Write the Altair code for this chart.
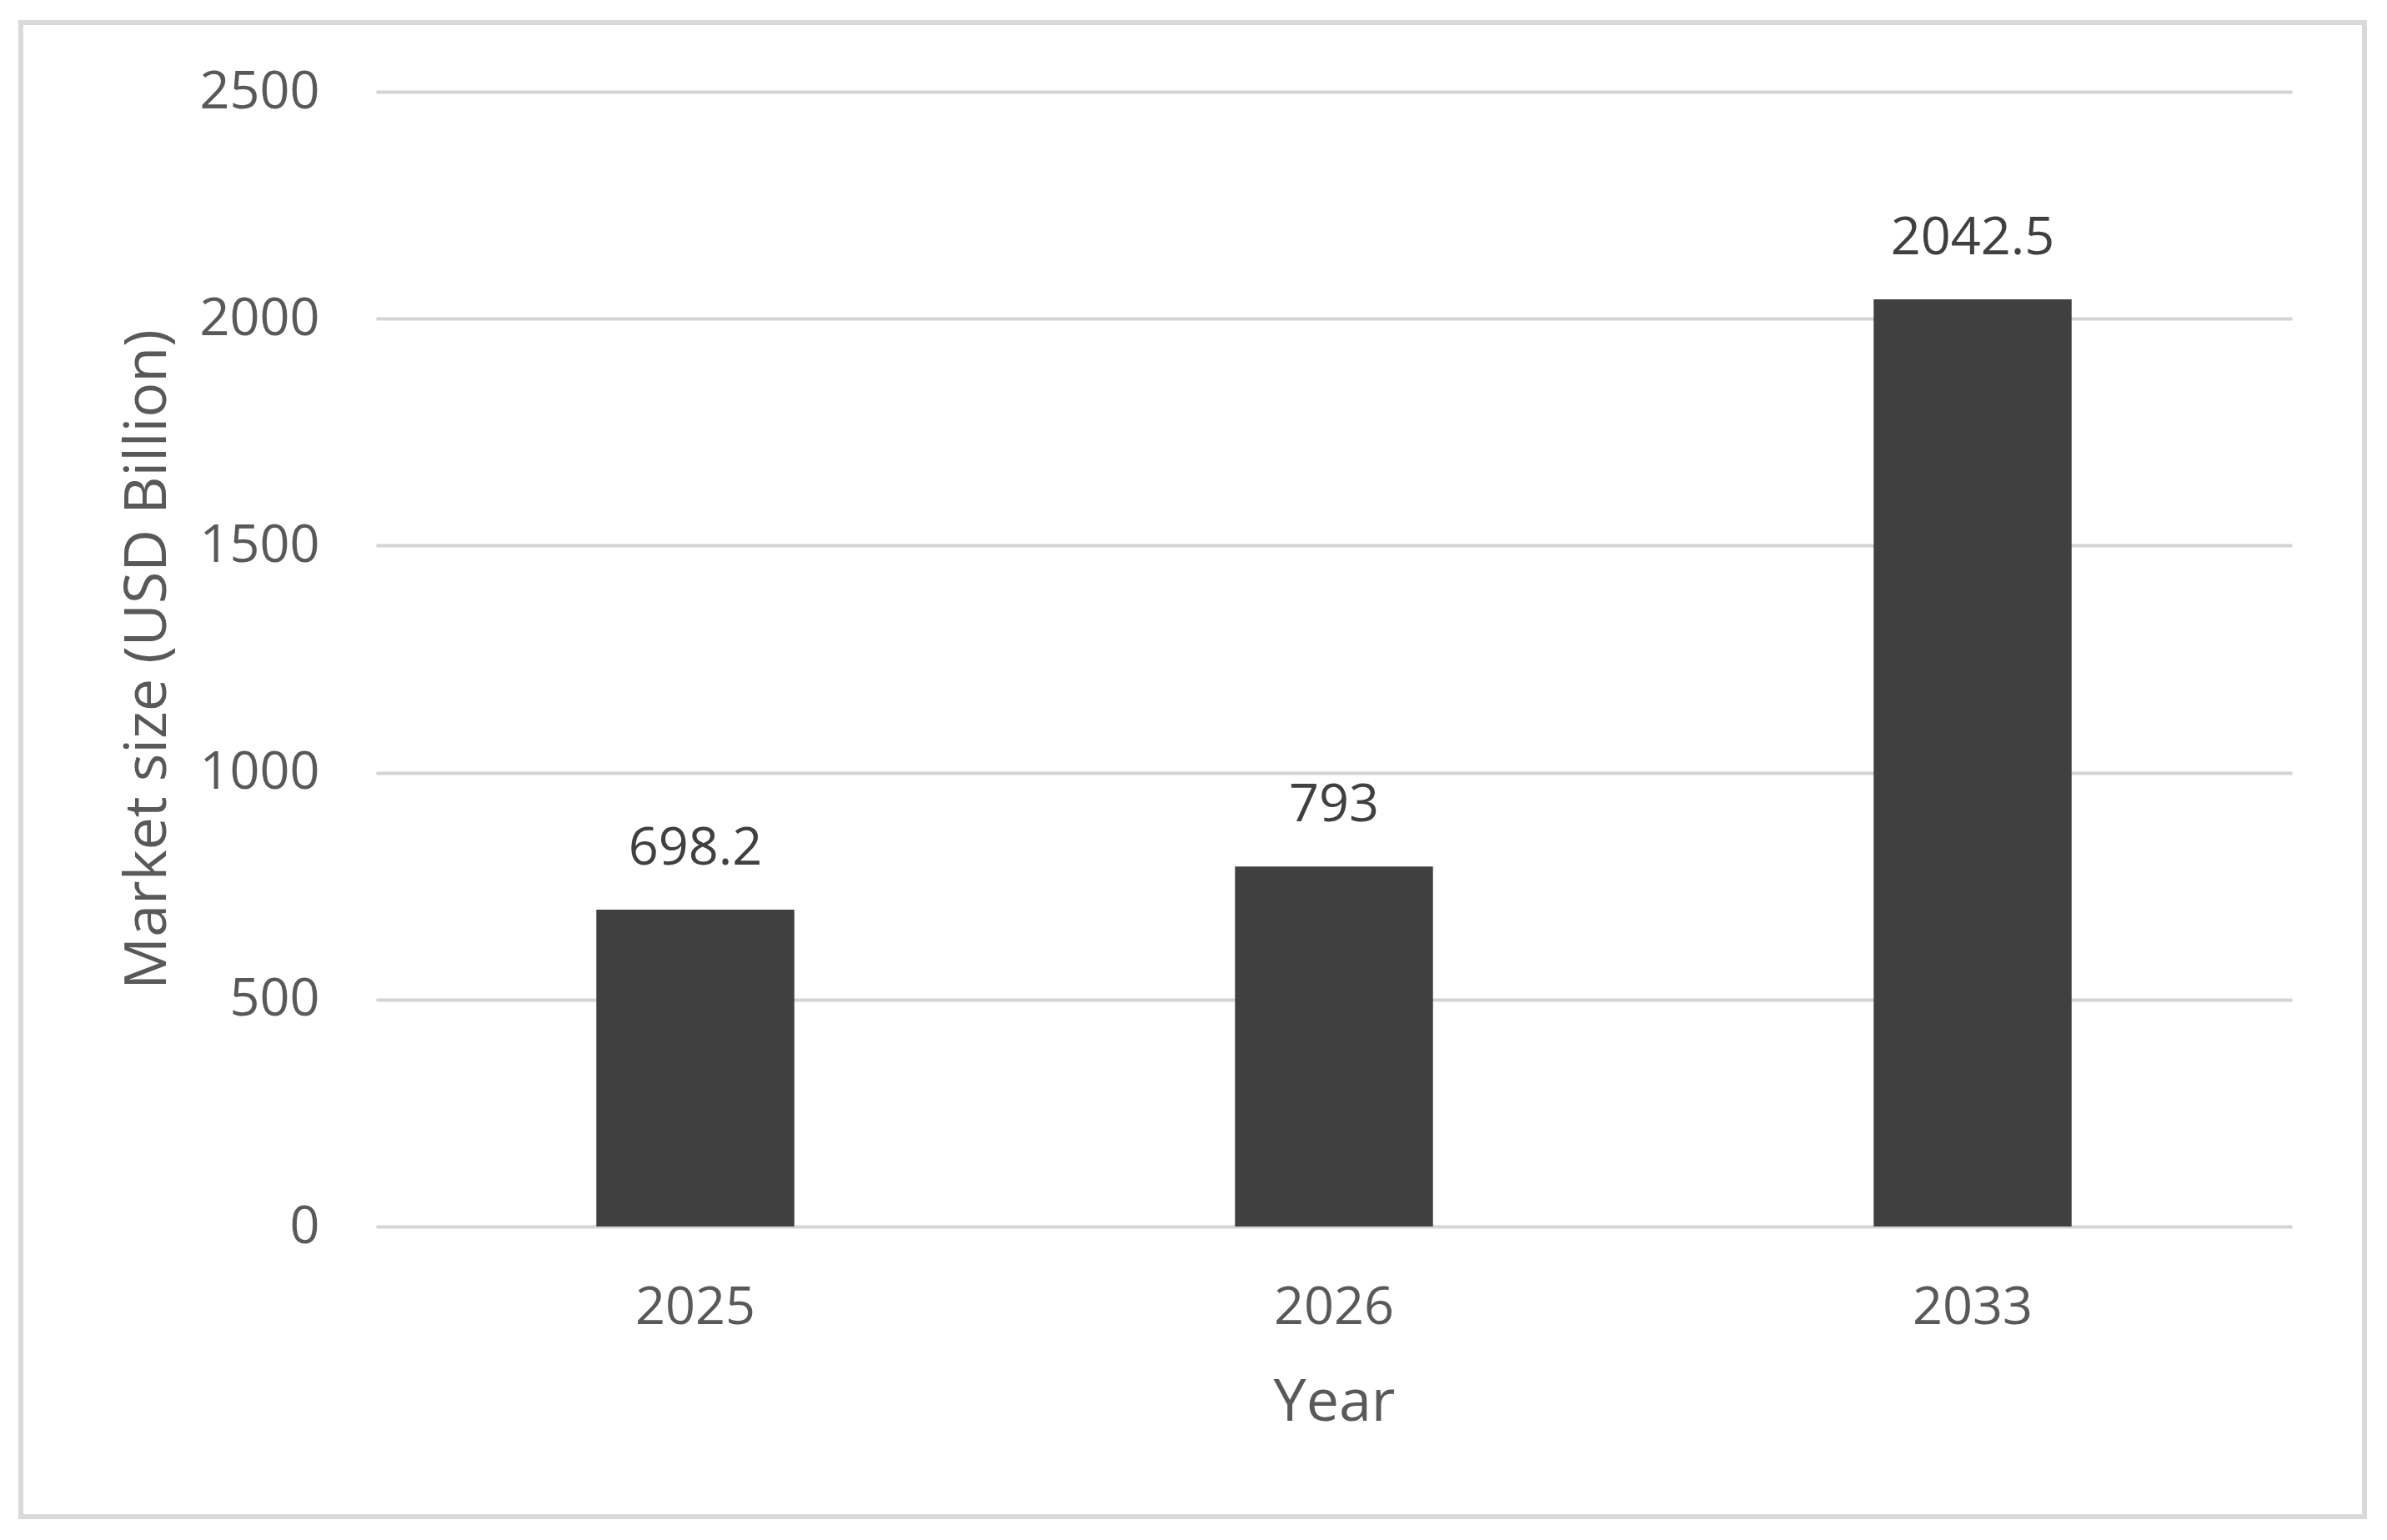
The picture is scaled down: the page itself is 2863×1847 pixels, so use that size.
import altair as alt
import pandas as pd

years = ["2025", "2026", "2033"]
values = [698.2, 793, 2042.5]
labels = ["698.2", "793", "2042.5"]
y_ticks = [0, 500, 1000, 1500, 2000, 2500]

df = pd.DataFrame({"Year": years, "Value": values, "Label": labels})

FONT = "Open Sans"
W, H = 2298, 1361

base = alt.Chart(df)

bars = base.mark_bar(color="#404040").encode(
    x=alt.X(
        "Year:N",
        sort=years,
        scale=alt.Scale(paddingInner=0.69, paddingOuter=0.345),
        axis=alt.Axis(
            title="Year",
            labelAngle=0,
            labelFont=FONT,
            labelFontSize=63,
            labelColor="#595959",
            labelBaseline="alphabetic",
            labelPadding=116,
            ticks=False,
            domain=False,
            grid=False,
            titleFont=FONT,
            titleFontSize=70,
            titleFontWeight="normal",
            titleColor="#595959",
            titleBaseline="alphabetic",
            titleY=232,
            titleX=W / 2,
        ),
    ),
    y=alt.Y(
        "Value:Q",
        scale=alt.Scale(domain=[0, 2500], nice=False),
        axis=alt.Axis(
            title="Market size (USD Billion)",
            values=y_ticks,
            format="d",
            labelFont=FONT,
            labelFontSize=63,
            labelColor="#595959",
            labelPadding=68,
            ticks=False,
            domain=False,
            grid=True,
            gridColor="#d4d4d4",
            gridWidth=4,
            titleFont=FONT,
            titleFontSize=70,
            titleFontWeight="normal",
            titleColor="#595959",
            titleAngle=-90,
            titleBaseline="middle",
            titleX=-274,
            titleY=H / 2,
        ),
    ),
)

text = base.mark_text(
    font=FONT, fontSize=63, color="#404040", baseline="alphabetic", dy=-54
).encode(
    x=alt.X("Year:N", sort=years),
    y=alt.Y("Value:Q"),
    text="Label:N",
)

border = alt.Chart(pd.DataFrame({"a": [0]})).mark_rect(
    fill=None, stroke="#d9d9d9", strokeWidth=6
).encode(
    x=alt.value(-426),
    x2=alt.value(2385),
    y=alt.value(-83),
    y2=alt.value(1709),
)

chart = (
    alt.layer(bars, text, border)
    .properties(
        width=W,
        height=H,
        background="white",
        autosize=alt.AutoSizeParams(type="none"),
        padding={"left": 443, "top": 102, "right": 105, "bottom": 360},
    )
    .configure_view(stroke=None)
)

chart.save("out.html", embed_options={"renderer": "svg", "actions": False})
